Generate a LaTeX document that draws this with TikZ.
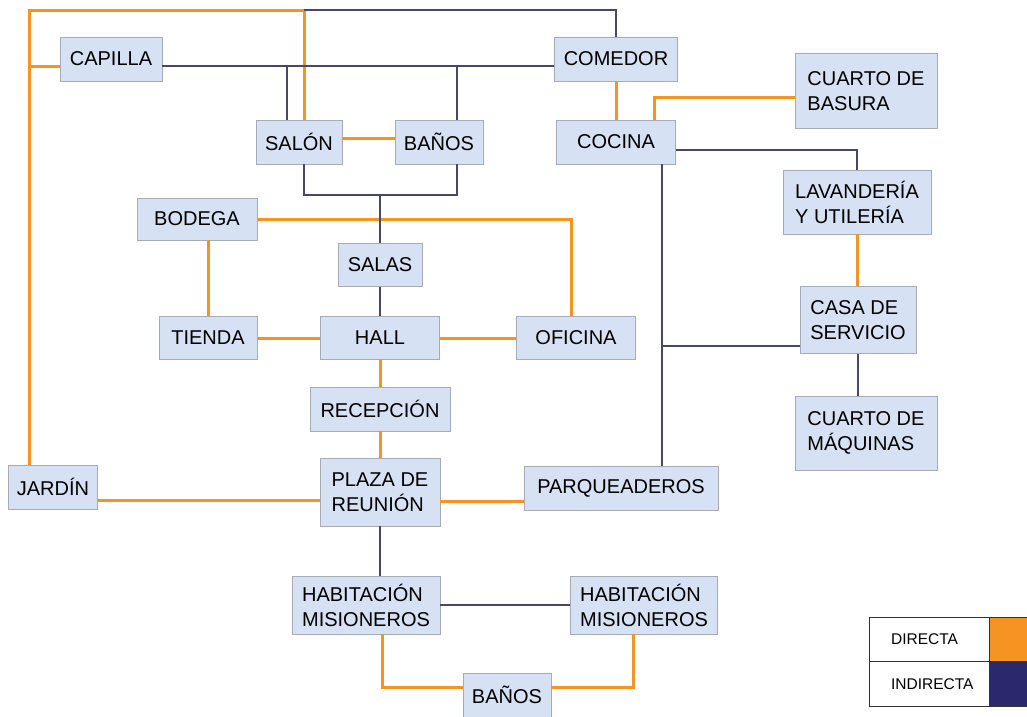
\documentclass[tikz,border=0pt]{standalone}
\usepackage{fontspec}
\setmainfont{Liberation Sans}
\definecolor{naranja}{RGB}{245,148,32}
\definecolor{oscuro}{RGB}{72,72,102}
\definecolor{azulino}{RGB}{43,41,110}
\definecolor{celeste}{RGB}{214,226,243}
\definecolor{borde}{RGB}{165,172,182}
\begin{document}
\begin{tikzpicture}[x=1pt, y=-1pt,
    espacio/.style={draw=borde, line width=0.8pt, fill=celeste, inner sep=0pt,
      align=left, font=\fontsize{20}{25}\selectfont},
    celda/.style={draw=black!80, line width=0.8pt, inner sep=0pt, minimum height=44.5pt},
    directa/.style={draw=naranja, line width=3pt},
    indirecta/.style={draw=oscuro, line width=1.6pt}]
  \useasboundingbox (0,0) rectangle (1027,716);

  % espacios
  \node (capilla)    at (111,59)  [espacio, minimum width=102pt, minimum height=44pt] {CAPILLA};
  \node (comedor)    at (616,59)  [espacio, minimum width=123pt, minimum height=44pt] {COMEDOR};
  \node (salon)      at (299,142) [espacio, minimum width=86pt,  minimum height=44pt] {SALÓN};
  \node (banosA)     at (439,142) [espacio, minimum width=88pt,  minimum height=44pt] {BAÑOS};
  \node (cocina)     at (616,142) [espacio, minimum width=119pt, minimum height=44pt] {COCINA};
  \node (basura)     at (866,91)  [espacio, minimum width=142pt, minimum height=75pt] {CUARTO DE\\BASURA};
  \node (lavanderia) at (857,202) [espacio, minimum width=148pt, minimum height=64pt] {LAVANDERÍA\\Y UTILERÍA};
  \node (bodega)     at (197,219) [espacio, minimum width=120pt, minimum height=42pt] {BODEGA};
  \node (salas)      at (380,265) [espacio, minimum width=84pt,  minimum height=43pt] {SALAS};
  \node (tienda)     at (208,338) [espacio, minimum width=98pt,  minimum height=43pt] {TIENDA};
  \node (hall)       at (380,338) [espacio, minimum width=119pt, minimum height=43pt] {HALL};
  \node (oficina)    at (576,338) [espacio, minimum width=119pt, minimum height=43pt] {OFICINA};
  \node (servicio)   at (858,320) [espacio, minimum width=116pt, minimum height=67pt] {CASA DE\\SERVICIO};
  \node (maquinas)   at (866,433) [espacio, minimum width=142pt, minimum height=74pt] {CUARTO DE\\MÁQUINAS};
  \node (recepcion)  at (380,409) [espacio, minimum width=140pt, minimum height=44pt] {RECEPCIÓN};
  \node (jardin)     at (53,487)  [espacio, minimum width=89pt,  minimum height=44pt] {JARDÍN};
  \node (plaza)      at (380,492) [espacio, minimum width=120pt, minimum height=68pt] {PLAZA DE\\REUNIÓN};
  \node (parqueo)    at (621,488) [espacio, minimum width=194pt, minimum height=44pt] {PARQUEADEROS};
  \node (habA)       at (366,605) [espacio, minimum width=148pt, minimum height=58pt] {HABITACIÓN\\MISIONEROS};
  \node (habB)       at (644,605) [espacio, minimum width=147pt, minimum height=58pt] {HABITACIÓN\\MISIONEROS};
  \node (banosB)     at (507,695) [espacio, minimum width=88pt,  minimum height=44pt] {BAÑOS};

  \coordinate (esqA) at (29,10);
  \coordinate (esqB) at (304,10);
  \coordinate (esqC) at (616,10);
  \coordinate (union) at (380,195);
  \coordinate (cruce) at (662,346);

  % relacion directa
  \draw[directa] (jardin.north -| esqA) -- (esqA) -- (esqB) -- (salon.north -| esqB);
  \draw[directa] ([yshift=-7pt]capilla.west) -- ([yshift=-7pt]capilla.west -| esqA);
  \draw[directa] ([yshift=4pt]salon.east) -- ([yshift=4pt]banosA.west);
  \draw[directa] (comedor.south) -- (cocina.north);
  \draw[directa] ([xshift=38pt]cocina.north) |- ([yshift=-6pt]basura.west);
  \draw[directa] (lavanderia.south) -- (lavanderia.south |- servicio.north);
  \draw[directa] (bodega.east) -| ([xshift=-5pt]oficina.north);
  \draw[directa] (tienda.north |- bodega.south) -- (tienda.north);
  \draw[directa] (tienda.east) -- (hall.west);
  \draw[directa] (hall.east) -- (oficina.west);
  \draw[directa] (hall.south) -- (recepcion.north);
  \draw[directa] (recepcion.south) -- (plaza.north);
  \draw[directa] ([yshift=-13pt]jardin.east) -- ([yshift=-13pt]jardin.east -| plaza.west);
  \draw[directa] ([yshift=-13pt]parqueo.west) -- ([yshift=-13pt]parqueo.west -| plaza.east);
  \draw[directa] ([xshift=16pt]habA.south) |- ([yshift=8pt]banosB.west);
  \draw[directa] ([yshift=8pt]banosB.east) -| ([xshift=-11pt]habB.south);

  % relacion indirecta
  \draw[indirecta] (esqB) -- (esqC) -- (comedor.north);
  \draw[indirecta] ([yshift=-7pt]capilla.east) -- ([yshift=-7pt]comedor.west);
  \draw[indirecta] ([xshift=-12pt]salon.north) |- ([yshift=-7pt]capilla.east);
  \draw[indirecta] ([xshift=18pt]banosA.north) |- ([yshift=-7pt]comedor.west);
  \draw[indirecta] ([xshift=5pt]salon.south) |- (union) -| ([xshift=18pt]banosA.south);
  \draw[indirecta] (union) -- (salas.north);
  \draw[indirecta] (salas.south) -- (hall.north);
  \draw[indirecta] ([yshift=-8pt]cocina.east) -| (lavanderia.north);
  \draw[indirecta] ([xshift=46pt]cocina.south) -- ([xshift=41pt]parqueo.north);
  \draw[indirecta] (servicio.west |- cruce) -- (cruce);
  \draw[indirecta] (servicio.south) -- (servicio.south |- maquinas.north);
  \draw[indirecta] (plaza.south) -- (plaza.south |- habA.north);
  \draw[indirecta] (habA.east) -- (habB.west);

  % leyenda
  \node (directa)   at (929,639.5) [celda, minimum width=120pt] {};
  \node (indirecta) at (929,684)   [celda, minimum width=120pt] {};
  \node (colorD)    at (1008,639.5) [celda, fill=naranja, minimum width=38pt] {};
  \node (colorI)    at (1008,684)   [celda, fill=azulino, minimum width=38pt] {};
  \node[anchor=west, font=\fontsize{15.5}{18}\selectfont] at ([xshift=19pt]directa.west) {DIRECTA};
  \node[anchor=west, font=\fontsize{15.5}{18}\selectfont] at ([xshift=19pt]indirecta.west) {INDIRECTA};
\end{tikzpicture}
\end{document}
